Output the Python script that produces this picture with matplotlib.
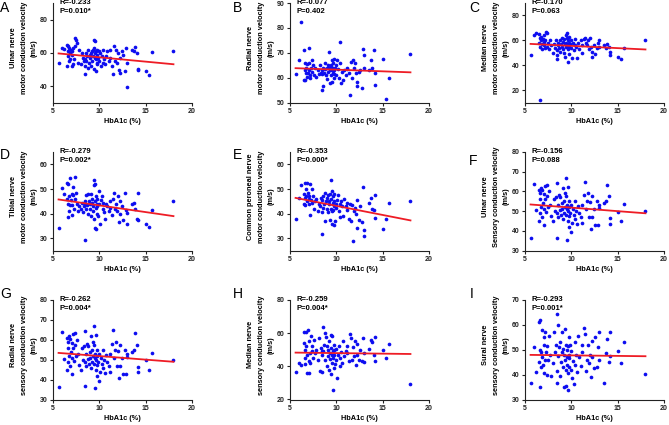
import matplotlib.pyplot as plt
import numpy as np

plt.rcParams['font.family'] = ['Liberation Sans', 'DejaVu Sans']

# HbA1c (%) of the patients, same x for every panel
hba1c = [5.6, 6.0, 6.2, 6.5, 6.5, 6.6, 6.6, 6.6, 6.7, 6.7,
         6.8, 6.8, 6.9, 7.0, 7.0, 7.1, 7.2, 7.2, 7.3, 7.4,
         7.4, 7.5, 7.6, 7.7, 7.8, 8.0, 8.1, 8.2, 8.3, 8.4,
         8.4, 8.5, 8.6, 8.6, 8.7, 8.8, 8.8, 8.9, 9.0, 9.0,
         9.1, 9.1, 9.2, 9.2, 9.3, 9.3, 9.4, 9.4, 9.4, 9.5,
         9.5, 9.5, 9.6, 9.6, 9.6, 9.7, 9.7, 9.8, 9.8, 9.9,
         10.0, 10.0, 10.1, 10.2, 10.3, 10.4, 10.4, 10.5, 10.6, 10.7,
         10.8, 11.0, 11.1, 11.2, 11.4, 11.5, 11.6, 11.7, 11.8, 11.9,
         12.0, 12.1, 12.2, 12.2, 12.4, 12.6, 12.8, 12.9, 13.0, 13.0,
         13.5, 13.7, 13.9, 14.1, 14.2, 14.2, 15.0, 15.4, 15.7, 18.0]

# conduction velocities (m/s)
ulnar_motor = [54, 63, 62.5, 65, 52, 64, 61, 58, 63, 55,
               60, 56, 62, 52, 59, 61, 53, 63, 56, 69,
               64, 67.5, 66, 54, 62, 53, 60, 57, 55, 52,
               56, 47, 55, 60, 58, 51, 62, 54, 59, 57,
               60, 52, 61, 55, 58, 62, 68, 63, 50, 57,
               67, 60, 49, 56, 61, 53, 59, 62, 54, 57,
               61, 55, 60, 52, 58, 54, 62, 56, 53, 58,
               61, 55, 57, 62, 52, 47.5, 64, 55, 62, 54,
               60, 49.5, 48, 57, 61, 59, 49, 63, 54, 39.5,
               62, 61, 63.5, 60, 50.5, 49.5, 49, 46.5, 60.3, 61]

radial_motor = [61.5, 67, 82.5, 71, 59, 66, 63, 59, 62, 64,
                65.5, 60.5, 62, 72, 63, 66, 61, 60, 64, 67,
                62.5, 65, 61, 64, 60.5, 63, 61.5, 65, 62, 55,
                61.5, 63, 56.5, 64, 62, 66, 63.5, 61, 64, 59.5,
                65, 62.5, 70.5, 64, 58, 63, 65, 61, 64.5, 67,
                63, 58.5, 66, 62, 64, 60, 67.5, 63, 61.5, 64,
                65, 61, 67, 63.5, 60, 74.5, 66, 58, 62.5, 59,
                63, 61, 63.5, 64, 62, 53, 66.5, 60, 67, 64,
                66, 62, 56.5, 58.5, 62.5, 63, 56, 71.5, 69, 64,
                63, 67, 64, 71, 62, 57, 67.5, 51.5, 60, 69.5]

median_motor = [48, 64, 66, 65, 58, 62, 12.5, 55, 60, 63,
                57, 53, 61, 56, 64, 59, 54, 60, 67, 66,
                55, 58, 53, 60, 56, 50, 57, 54, 60, 52,
                48, 45, 56, 58, 54, 60, 51, 57, 62, 55,
                53, 59, 61, 50, 57, 47, 64, 55, 58, 62,
                66, 56, 53, 60, 42.5, 58, 49, 63, 55, 57,
                60, 54, 46, 58, 52, 56, 61, 55, 46, 58,
                53, 60, 56, 50, 61, 62, 58, 56, 60, 53,
                62, 55, 47, 51, 56, 49, 54, 58, 60, 55,
                56, 54, 57, 55, 51, 48.5, 47, 45, 54, 60]

tibial_motor = [34.3, 50.5, 48, 46, 52.5, 52, 38.5, 44, 47, 41,
                54.5, 43.5, 45.5, 39.5, 48, 43.5, 47.5, 51, 42, 55,
                46, 48.5, 44, 41, 43, 42, 44.5, 40.5, 43, 45,
                44, 29.5, 42, 47.5, 43.5, 40, 48, 45, 44, 42,
                48, 39, 46, 44.5, 41, 43, 53.5, 51.5, 38, 45,
                52, 34, 42.5, 47, 33.8, 44, 40, 46, 43, 39,
                49, 44, 36, 45.5, 47, 42, 44.5, 40.5, 38, 44,
                43, 41, 45, 42.5, 39.5, 46, 48.5, 42, 44, 41,
                47, 36.5, 40, 45, 43, 37.5, 48.5, 41.5, 40.3, 36,
                44, 44.5, 42, 38, 48.5, 37.5, 35.7, 34.5, 41.5, 45.2]

peroneal_motor = [38, 46.5, 51.5, 48, 44, 52.5, 46.5, 43.5, 50, 47,
                  52.5, 45, 48.5, 44, 47, 46, 39.3, 52, 45.5, 50,
                  44.5, 47, 42, 45, 46, 41, 44, 43, 46.5, 40.5,
                  45.5, 31.6, 42.5, 47, 44, 37, 48.5, 45, 42, 46.5,
                  40.5, 47.5, 44, 45, 37.5, 48, 53.5, 42, 46, 41,
                  49, 36, 44.5, 47, 41.5, 43, 35.5, 48, 45, 37,
                  44, 42.5, 45.5, 47.5, 41, 44, 38.5, 45, 43, 39,
                  46, 43, 44.5, 41.5, 38, 44, 37, 43.5, 28.8, 41,
                  42.5, 40, 34.2, 45.5, 37.5, 43, 36.5, 50.8, 33.2, 30.8,
                  44.5, 46.5, 42, 41.5, 47.5, 38.2, 33.6, 38, 44.3, 45.2]

ulnar_sensory = [36.4, 64, 50.5, 61, 45, 59, 56, 49, 62, 52,
                 60.5, 47, 54, 43, 58.5, 51, 63, 56, 49.5, 63.5,
                 57.5, 52, 60, 53, 47.5, 45, 56, 50, 57, 49,
                 36.6, 64.5, 53, 47, 58, 50.5, 57, 48, 54, 51,
                 46, 62, 49, 55, 52, 59, 66.8, 48, 57.5, 51,
                 53, 35.6, 45, 62.5, 50, 42, 55, 47.5, 52, 49,
                 39.5, 53, 44, 51, 48, 55, 46, 50, 43.5, 52.5,
                 49, 47, 53, 44, 58, 64.8, 51, 55, 59, 47,
                 54.5, 40.8, 47, 57.5, 51, 43, 55, 42.8, 53, 51.5,
                 54, 55, 63.4, 57.5, 43.7, 46.5, 49.6, 45, 53.6, 49.9]

# panel G shows the very same points as panel F in the source figure
radial_sensory = [36.4, 64, 50.5, 61, 45, 59, 56, 49, 62, 52,
                  60.5, 47, 54, 43, 58.5, 51, 63, 56, 49.5, 63.5,
                  57.5, 52, 60, 53, 47.5, 45, 56, 50, 57, 49,
                  36.6, 64.5, 53, 47, 58, 50.5, 57, 48, 54, 51,
                  46, 62, 49, 55, 52, 59, 66.8, 48, 57.5, 51,
                  53, 35.6, 45, 62.5, 50, 42, 55, 47.5, 52, 49,
                  39.5, 53, 44, 51, 48, 55, 46, 50, 43.5, 52.5,
                  49, 47, 53, 44, 58, 64.8, 51, 55, 59, 47,
                  54.5, 40.8, 47, 57.5, 51, 43, 55, 42.8, 53, 51.5,
                  54, 55, 63.4, 57.5, 43.7, 46.5, 49.6, 45, 53.6, 49.9]

median_sensory = [36.8, 42, 41, 54, 61, 50, 45, 41.5, 60.5, 52,
                  47, 36, 62, 36, 55, 43, 48, 42, 58, 52.5,
                  49, 45, 56, 48, 50, 44, 57, 37, 51, 49,
                  47, 36.8, 64, 49, 53, 60, 44, 57.5, 40, 52,
                  46, 50, 38, 55.5, 48, 44.5, 59, 35.5, 51, 47,
                  42, 58, 49, 25.8, 45, 53, 39, 47, 50, 41.5,
                  44, 50.5, 33, 47, 52.5, 40, 45, 48.5, 42, 55.5,
                  46, 49, 52, 48, 43, 59.5, 57, 44, 51.5, 46.5,
                  55, 41, 47, 53.5, 44, 50, 43, 57, 48, 42.5,
                  50.5, 56, 54.5, 47, 57.5, 43.5, 49.8, 45, 53.4, 29.4]

sural_sensory = [36.6, 51, 41, 61, 45, 50, 34.9, 62, 49, 43,
                 47, 58, 44, 52, 40.5, 55, 46, 57, 49, 40,
                 51.5, 46, 55.5, 48, 39.5, 44.5, 57, 49, 52, 41.5,
                 64.2, 36.8, 60, 47.5, 51, 39.5, 53, 45, 49, 57,
                 43, 50.5, 35, 48, 58.5, 46, 52, 42, 35.5, 50,
                 47, 44, 34, 51.5, 40.5, 55, 48, 43, 46.5, 52,
                 42, 49.5, 38.5, 45.5, 36.4, 53, 44, 48, 41, 55.5,
                 47, 43.5, 52, 49, 58.9, 56.2, 41.5, 46, 52, 44.8,
                 48, 39, 53.5, 47, 42.5, 55, 43, 51, 57, 46,
                 36.6, 48.5, 54.5, 45, 57.3, 47.5, 49.5, 44.8, 53.3, 40.2]

letters = ['A', 'B', 'C', 'D', 'E', 'F', 'G', 'H', 'I']
velocities = [ulnar_motor, radial_motor, median_motor,
              tibial_motor, peroneal_motor, ulnar_sensory,
              radial_sensory, median_sensory, sural_sensory]
ylabels = ['Ulnar nerve\nmotor conduction velocity\n(m/s)',
           'Radial nerve\nmotor conduction velocity\n(m/s)',
           'Median nerve\nmotor conduction velocity\n(m/s)',
           'Tibial nerve\nmotor conduction velocity\n(m/s)',
           'Common peroneal nerve\nmotor conduction velocity\n(m/s)',
           'Ulnar nerve\nSensory conduction velocity\n(m/s)',
           'Radial nerve\nsensory conduction velocity\n(m/s)',
           'Median nerve\nsensory conduction velocity\n(m/s)',
           'Sural nerve\nsensory conduction velocity\n(m/s)']
r_text = ['R=-0.233', 'R=-0.077', 'R=-0.170', 'R=-0.279', 'R=-0.353',
          'R=-0.156', 'R=-0.262', 'R=-0.259', 'R=-0.293']
p_text = ['P=0.010*', 'P=0.402', 'P=0.063', 'P=0.002*', 'P=0.000*',
          'P=0.088', 'P=0.004*', 'P=0.004*', 'P=0.001*']
ylims = [(30, 90), (50, 90), (10, 90), (25, 65), (25, 65),
         (30, 80), (30, 80), (20, 80), (30, 70)]
yticks = [[40, 60, 80], [50, 60, 70, 80, 90], [20, 40, 60, 80],
          [30, 40, 50, 60], [30, 40, 50, 60], [30, 40, 50, 60, 70, 80],
          [30, 40, 50, 60, 70, 80], [20, 40, 60, 80], [30, 40, 50, 60, 70]]

W, H = 669, 425
col_left = [53, 290, 525]
row_top = [3, 152, 300]
row_bot = [102.7, 250.7, 399.5]
ax_w = 139
label_off = [-39.5, -28.5, -18.5]   # px left of the y axis, one per label line
letter_pos = [(0, 8), (233, 8), (469, 8),
              (0, 155), (233, 155), (469, 161),
              (0, 294), (233, 294), (470, 294)]

fig = plt.figure(figsize=(W / 100, H / 100), dpi=100)
x = np.array(hba1c)

for i in range(9):
    r, c = divmod(i, 3)
    ax = fig.add_axes([col_left[c] / W, 1 - row_bot[r] / H, ax_w / W,
                       (row_bot[r] - row_top[r]) / H])
    y = np.array(velocities[i])
    ax.scatter(x, y, s=7, color='#0d0df0', linewidths=0, zorder=3)
    # least squares line over the data range
    k, b = np.polyfit(x, y, 1)
    xx = np.array([x.min(), x.max()])
    ax.plot(xx, k * xx + b, color='#ee1c25', lw=1.3, zorder=4)

    ax.set_xlim(5, 20)
    ax.set_xticks([5, 10, 15, 20])
    ax.set_ylim(*ylims[i])
    ax.set_yticks(yticks[i])
    for s in ['top', 'right']:
        ax.spines[s].set_visible(False)
    for s in ['left', 'bottom']:
        ax.spines[s].set_linewidth(0.8)
        ax.spines[s].set_color('#222222')
    ax.tick_params(length=2.5, width=0.8, pad=1.5, labelsize=5, colors='#222222')
    for lab in ax.get_xticklabels() + ax.get_yticklabels():
        lab.set_fontweight('bold')

    ax.set_xlabel('HbA1c (%)', fontsize=5.3, fontweight='bold', labelpad=2)
    # y label written line by line so each line sits where the reference has it
    for off, line in zip(label_off, ylabels[i].split('\n')):
        ax.text(off / ax_w, 0.55, line, transform=ax.transAxes, rotation=90,
                fontsize=5.3, fontweight='bold', ha='center', va='center')

    ax.text(0.05, 1.01, r_text[i], transform=ax.transAxes, fontsize=5.5,
            fontweight='bold', va='center', ha='left')
    ax.text(0.05, 0.91, p_text[i], transform=ax.transAxes, fontsize=5.5,
            fontweight='bold', va='center', ha='left')

    lx, ly = letter_pos[i]
    fig.text(lx / W, 1 - ly / H, letters[i], fontsize=10, va='center', ha='left')

fig.savefig('out.png', dpi=100)
